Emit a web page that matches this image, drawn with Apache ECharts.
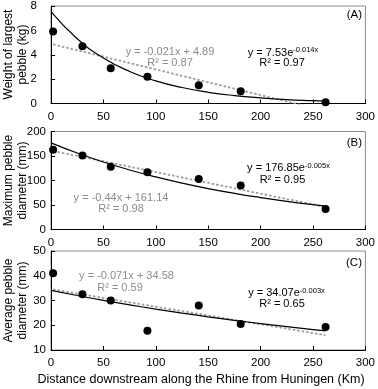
<!DOCTYPE html>
<html>
<head>
<meta charset="utf-8">
<script src="https://cdn.jsdelivr.net/npm/echarts@6/dist/echarts.min.js"></script>
<style>
html,body{margin:0;padding:0;background:#fff;}
#c{width:378px;height:389px;}
</style>
</head>
<body>
<div id="c"></div>
<script>
// ---- data ----
const distanceKm = [2, 30, 57, 92, 141, 181, 262];
const weightLargestKg = [5.9, 4.7, 2.9, 2.2, 1.5, 1.0, 0.1];
const maxDiameterMm = [163, 151, 128, 117, 103, 90, 42];
const avgDiameterMm = [41, 32.5, 30, 17.8, 28, 20.5, 19.3];

// trend lines (values along the drawn curves)
const trendX = [0, 25, 50, 75, 100, 125, 150, 175, 200, 225, 250, 262];
const expTrendA = [7.53, 5.31, 3.74, 2.63, 1.86, 1.31, 0.92, 0.65, 0.46, 0.32, 0.23, 0.19];
const expTrendB = [176.85, 156.1, 137.7, 121.5, 107.3, 94.7, 83.5, 73.7, 65.1, 57.4, 50.7, 47.7];
const expTrendC = [34.07, 32.01, 30.07, 28.24, 26.53, 24.93, 23.42, 22.0, 20.66, 19.41, 18.24, 17.7];
const linX = [2, 262];
const linTrendA = [4.85, -0.61];
const linTrendB = [160.3, 45.9];
const linTrendC = [34.44, 15.98];

const xTicks = [0, 50, 100, 150, 200, 250, 300];
const yTicksA = [0, 2, 4, 6, 8];
const yTicksB = [0, 50, 100, 150, 200];
const yTicksC = [10, 20, 30, 40, 50];

const yTitles = ['Weight of largest\npebble (kg)', 'Maximum pebble\ndiameter (mm)', 'Average pebble\ndiameter (mm)'];
const xTitle = 'Distance downstream along the Rhine from Huningen (Km)';
const panelTags = ['(A)', '(B)', '(C)'];
const linEq = [['y = -0.021x + 4.89', 'R² = 0.87'], ['y = -0.44x + 161.14', 'R² = 0.98'], ['y = -0.071x + 34.58', 'R² = 0.59']];
const expEq = [['7.53', '-0.014x', 'R² = 0.97'], ['176.85', '-0.005x', 'R² = 0.95'], ['34.07', '-0.003x', 'R² = 0.65']];

// ---- chart ----
const FONT = 'Liberation Sans, Arial, sans-serif';
const zip = (xs, ys) => xs.map((x, i) => [x, ys[i]]);

const grids = [
  {left: 51, top: 5.5, width: 315.5, height: 98},
  {left: 51, top: 131.5, width: 315.5, height: 98},
  {left: 51, top: 251, width: 315.5, height: 99}
].map(g => Object.assign(g, {show: true, borderColor: '#8a8a8a', borderWidth: 1, backgroundColor: 'transparent'}));

const yTickSets = [yTicksA, yTicksB, yTicksC];
const yMargins = [14, 5, 5];

const xAxes = grids.map((g, i) => ({
  type: 'value', gridIndex: i,
  min: xTicks[0], max: xTicks[xTicks.length - 1], interval: xTicks[1] - xTicks[0],
  axisLine: {show: true, onZero: false, lineStyle: {color: '#000', width: 1}},
  axisTick: {show: true, inside: true, length: 4, lineStyle: {color: '#000'}},
  axisLabel: {color: '#000', fontSize: 11.5, fontFamily: FONT, margin: 7},
  splitLine: {show: false}
}));

const yAxes = grids.map((g, i) => {
  const t = yTickSets[i];
  return {
    type: 'value', gridIndex: i,
    min: t[0], max: t[t.length - 1], interval: t[1] - t[0],
    axisLine: {show: true, onZero: false, lineStyle: {color: '#000', width: 1}},
    axisTick: {show: true, inside: true, length: 4, lineStyle: {color: '#000'}},
    axisLabel: {color: '#000', fontSize: 11.5, fontFamily: FONT, margin: yMargins[i]},
    splitLine: {show: false}
  };
});

const pointSets = [weightLargestKg, maxDiameterMm, avgDiameterMm];
const expSets = [expTrendA, expTrendB, expTrendC];
const linSets = [linTrendA, linTrendB, linTrendC];

const series = [];
for (let i = 0; i < 3; i++) {
  series.push({
    type: 'line', xAxisIndex: i, yAxisIndex: i, data: zip(linX, linSets[i]),
    symbol: 'none', clip: true, z: 2, silent: true,
    lineStyle: {color: '#9c9c9c', width: 1.8, type: [2.5, 2]}
  });
  series.push({
    type: 'line', xAxisIndex: i, yAxisIndex: i, data: zip(trendX, expSets[i]),
    symbol: 'none', smooth: true, clip: true, z: 3, silent: true,
    lineStyle: {color: '#000', width: 1.2}
  });
  series.push({
    type: 'scatter', xAxisIndex: i, yAxisIndex: i, data: zip(distanceKm, pointSets[i]),
    symbol: 'circle', symbolSize: 8, z: 4,
    itemStyle: {color: '#000', opacity: 1}
  });
}

function txt(x, y, text, color, size, align) {
  return {type: 'text', x: x, y: y, z: 10, silent: true,
    style: {text: text, fill: color, font: size + 'px ' + FONT, textAlign: align || 'center', textVerticalAlign: 'middle'}};
}
function expTxt(x, y, coef, expo) {
  return {type: 'text', x: x, y: y, z: 10, silent: true,
    style: {
      text: '{m|y = ' + coef + 'e}{s|' + expo + '}',
      textAlign: 'center', textVerticalAlign: 'middle',
      rich: {
        m: {fill: '#000', fontSize: 11, fontFamily: FONT, lineHeight: 13},
        s: {fill: '#000', fontSize: 7.5, fontFamily: FONT, verticalAlign: 'top', lineHeight: 8}
      }
    }};
}

const graphics = [];
// y-axis titles
const titleY = [54.5, 180.5, 300.5];
for (let i = 0; i < 3; i++) {
  graphics.push({type: 'text', x: 15.5, y: titleY[i], rotation: Math.PI / 2, z: 10, silent: true,
    style: {text: yTitles[i], fill: '#000', font: '12px ' + FONT, textAlign: 'center', textVerticalAlign: 'middle', lineHeight: 14}});
}
// panel tags
const tagY = [15, 142.7, 263.3];
for (let i = 0; i < 3; i++) graphics.push(txt(362, tagY[i], panelTags[i], '#000', 11.5, 'right'));
// linear equations (grey)
const linPos = [[[170, 52.3], [170, 63.3]], [[121, 197.7], [121, 209.3]], [[126.5, 276], [120, 288.3]]];
for (let i = 0; i < 3; i++) {
  graphics.push(txt(linPos[i][0][0], linPos[i][0][1], linEq[i][0], '#8c8c8c', 11));
  graphics.push(txt(linPos[i][1][0], linPos[i][1][1], linEq[i][1], '#8c8c8c', 11));
}
// exponential equations (black)
const expPos = [[[283, 52.7], [282, 63.3]], [[288.5, 168.3], [282.5, 180]], [[286.5, 293.3], [282, 304.3]]];
for (let i = 0; i < 3; i++) {
  graphics.push(expTxt(expPos[i][0][0], expPos[i][0][1], expEq[i][0], expEq[i][1]));
  graphics.push(txt(expPos[i][1][0], expPos[i][1][1], expEq[i][2], '#000', 11));
}
// x-axis title
graphics.push(txt(201, 380, xTitle, '#000', 12.5));

const chart = echarts.init(document.getElementById('c'), null, {renderer: 'canvas'});
chart.setOption({
  animation: false,
  backgroundColor: '#fff',
  grid: grids, xAxis: xAxes, yAxis: yAxes, series: series, graphic: graphics
});
</script>
</body>
</html>
